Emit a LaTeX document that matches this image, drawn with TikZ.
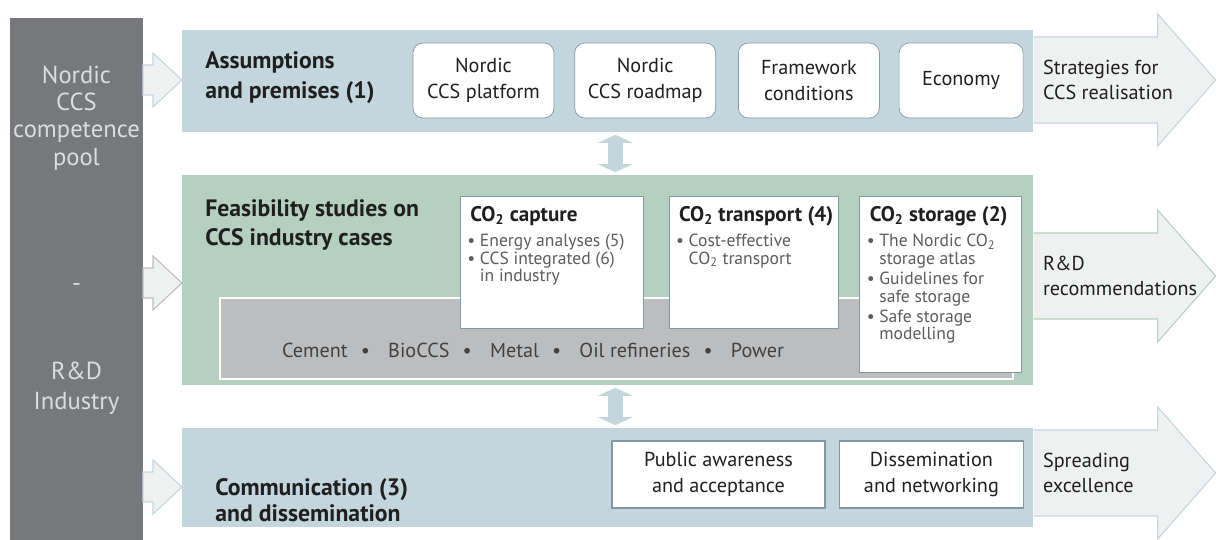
\documentclass[tikz,border=0pt]{standalone}
\usepackage{fontspec}
\setmainfont{PT Sans}
\usetikzlibrary{positioning,arrows.meta}

\definecolor{poolgrey}{HTML}{76787B}
\definecolor{pooltxt}{HTML}{DCDDDE}
\definecolor{panelblue}{HTML}{C3D6DD}
\definecolor{panelgreen}{HTML}{B5D0BE}
\definecolor{indgrey}{HTML}{BCBDBF}
\definecolor{flowfill}{HTML}{EFF1F1}
\definecolor{boxline}{HTML}{7F9AA5}
\definecolor{listgrey}{HTML}{5C5C5C}
\definecolor{txt}{HTML}{1F1F1F}

\newcommand{\indsep}{\hspace{0.65em}\textbullet\hspace{0.9em}}
\newcommand{\cotwo}{CO\textsubscript{2}}

\begin{document}
\begin{tikzpicture}[>=latex,
    panel/.style={anchor=west,minimum width=17.02cm,inner sep=0pt},
    headtext/.style={anchor=west,align=left,inner sep=0pt,text=txt,font=\bfseries\fontsize{13.5}{17}\selectfont},
    pooltext/.style={align=center,text=pooltxt,font=\fontsize{14}{15.5}\selectfont},
    topbox/.style={draw=boxline,fill=white,rounded corners=0.2cm,minimum width=2.82cm,minimum height=1.5cm,
        align=center,inner sep=0pt,text=txt,font=\fontsize{11.5}{14.5}\selectfont},
    casebox/.style={draw=boxline,fill=white,anchor=north west,inner sep=0pt,minimum height=2.64cm},
    casehead/.style={anchor=north west,text=txt,font=\bfseries\fontsize{12}{14}\selectfont,inner sep=0pt},
    caselist/.style={anchor=north west,align=left,text=listgrey,font=\fontsize{10}{9.8}\selectfont,inner sep=0pt},
    botbox/.style={draw=boxline,line width=0.8pt,fill=white,minimum height=1.34cm,align=center,inner sep=0pt,
        text=txt,font=\fontsize{11.5}{14.5}\selectfont},
    outtext/.style={anchor=west,align=left,inner sep=0pt,text=txt,font=\fontsize{11.5}{14.5}\selectfont},
    flow/.style={fill=flowfill,line width=0.6pt},
    link/.style={draw=panelblue,line width=0.3cm,shorten <=0.05cm,shorten >=0.05cm,
        {Triangle[width=0.7cm,length=0.16cm]}-{Triangle[width=0.7cm,length=0.16cm]}}
]
\useasboundingbox (0,0) rectangle (24.32,10.8);

% левая колонка
\node[fill=poolgrey,minimum width=2.66cm,minimum height=10.44cm,inner sep=0pt] (pool) at (1.53,5.22) {};
\node[pooltext] (poolnordic) at (1.53,8.44) {Nordic\\CCS\\competence\\pool};
\node[pooltext] (pooldash) at (1.53,5.04) {-};
\node[pooltext,font=\fontsize{14}{17}\selectfont] (poolrd) at (1.53,3.04) {R\&D\\Industry};

% три полосы
\node[panel,fill=panelblue,minimum height=2.04cm] (assum) at (3.64,9.18) {};
\node[panel,fill=panelgreen,minimum height=4.2cm] (feas) at (3.64,5.2) {};
\node[panel,fill=panelblue,minimum height=1.98cm] (comm) at (3.64,1.25) {};

\node[headtext] (assumt) at (4.1,9.24) {Assumptions\\and premises (1)};
\node[headtext] (feast) at (4.1,6.3) {Feasibility studies on\\CCS industry cases};
\node[headtext,font=\bfseries\fontsize{13.5}{14.5}\selectfont] (commt) at (4.3,0.8) {Communication (3)\\and dissemination};

% верхние блоки
\node[topbox] (platform) at (9.67,9.19) {Nordic\\CCS platform};
\node[topbox,right=0.4cm of platform] (roadmap) {Nordic\\CCS roadmap};
\node[topbox,right=0.44cm of roadmap] (frame) {Framework\\conditions};
\node[topbox,minimum width=2.48cm,right=0.38cm of frame] (economy) {Economy};

% отрасли
\node[fill=indgrey,draw=white,line width=1pt,minimum width=15.86cm,minimum height=1.62cm,inner sep=0pt] (ind) at (12.33,4.03) {};
\node[text=txt!85,font=\fontsize{11.5}{14}\selectfont] (indt) at (10.66,3.8)
    {Cement\indsep BioCCS\indsep Metal\indsep Oil refineries\indsep Power};

% CO2 блоки
\node[casebox,minimum width=3.66cm] (capture) at (9.2,6.88) {};
\node[casebox,minimum width=3.38cm,anchor=north west] (transport) at ([xshift=0.5cm]capture.north east) {};
\node[casebox,minimum width=3.24cm,minimum height=3.52cm] (storage) at ([xshift=0.42cm]transport.north east) {};

\node[casehead] (captureh) at ([xshift=0.2cm,yshift=-0.2cm]capture.north west) {\cotwo{} capture};
\node[caselist] (capturel) at ([xshift=0.14cm,yshift=-0.76cm]capture.north west)
    {\textbullet\ Energy analyses (5)\\\textbullet\ CCS integrated (6)\\\phantom{\textbullet\ }in industry};
\node[casehead] (transporth) at ([xshift=0.2cm,yshift=-0.2cm]transport.north west) {\cotwo{} transport (4)};
\node[caselist] (transportl) at ([xshift=0.14cm,yshift=-0.76cm]transport.north west)
    {\textbullet\ Cost-effective\\\phantom{\textbullet\ }\cotwo{} transport};
\node[casehead] (storageh) at ([xshift=0.2cm,yshift=-0.2cm]storage.north west) {\cotwo{} storage (2)};
\node[caselist] (storagel) at ([xshift=0.14cm,yshift=-0.76cm]storage.north west)
    {\textbullet\ The Nordic \cotwo\\\phantom{\textbullet\ }storage atlas\\[2pt]
     \textbullet\ Guidelines for\\\phantom{\textbullet\ }safe storage\\[2pt]
     \textbullet\ Safe storage\\\phantom{\textbullet\ }modelling};

% нижние блоки
\node[botbox,minimum width=4.26cm] (public) at (14.37,1.31) {Public awareness\\and acceptance};
\node[botbox,minimum width=3.68cm,right=0.26cm of public] (dissem) {Dissemination\\and networking};

% связи между полосами
\draw[link] ([xshift=0.15cm]assum.south) -- ([xshift=0.15cm]feas.north);
\draw[link] ([xshift=0.15cm]feas.south) -- ([xshift=0.15cm]comm.north);

% входящие стрелки
\foreach \p/\dy/\c in {assum/0.02/panelblue, feas/-0.06/indgrey, comm/-0.19/panelblue} {
    \draw[flow,draw=\c] ([yshift=\dy cm]\p.west) -- ++(-0.58,0.54) -- ++(0,-0.24) -- ++(-0.2,0)
        -- ++(0,-0.6) -- ++(0.2,0) -- ++(0,-0.24) -- cycle;
}

% выходящие стрелки
\foreach \p/\dy/\c/\t in {assum/0.02/panelblue/{Strategies for\\CCS realisation},
                          feas/0.08/panelgreen/{R\&D\\recommendations},
                          comm/0.09/panelblue/{Spreading\\excellence}} {
    \filldraw[flow,draw=\c] ([yshift=\dy cm+0.86cm]\p.east) -- ++(2.48,0) -- ++(0,0.46) -- ++(1.16,-1.32)
        -- ++(-1.16,-1.32) -- ++(0,0.46) -- ++(-2.48,0);
    \node[outtext] (out-\p) at ([xshift=0.18cm,yshift=\dy cm]\p.east) {\t};
}
\end{tikzpicture}
\end{document}
